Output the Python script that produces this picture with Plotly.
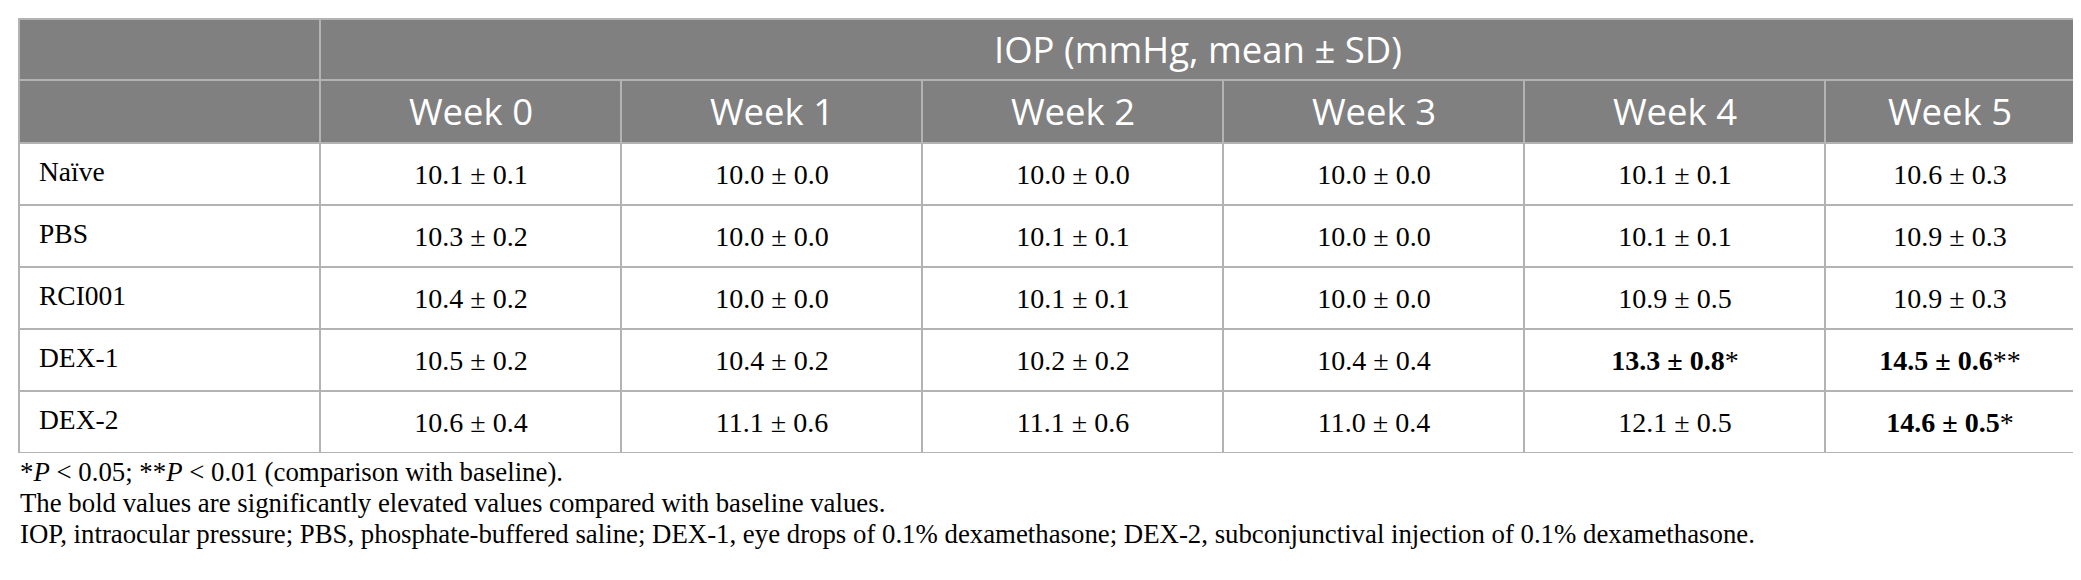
import numpy as np
import plotly.graph_objects as go

# ---- data ----
groups = ["Naïve", "PBS", "RCI001", "DEX-1", "DEX-2"]
weeks = ["Week 0", "Week 1", "Week 2", "Week 3", "Week 4", "Week 5"]
title = "IOP (mmHg, mean ± SD)"

mean_naive = [10.1, 10.0, 10.0, 10.0, 10.1, 10.6]
sd_naive = [0.1, 0.0, 0.0, 0.0, 0.1, 0.3]
mean_pbs = [10.3, 10.0, 10.1, 10.0, 10.1, 10.9]
sd_pbs = [0.2, 0.0, 0.1, 0.0, 0.1, 0.3]
mean_rci = [10.4, 10.0, 10.1, 10.0, 10.9, 10.9]
sd_rci = [0.2, 0.0, 0.1, 0.0, 0.5, 0.3]
mean_dex1 = [10.5, 10.4, 10.2, 10.4, 13.3, 14.5]
sd_dex1 = [0.2, 0.2, 0.2, 0.4, 0.8, 0.6]
mean_dex2 = [10.6, 11.1, 11.1, 11.0, 12.1, 14.6]
sd_dex2 = [0.4, 0.6, 0.6, 0.4, 0.5, 0.5]

# significance vs baseline ("" = n.s.), bold when significant
sig_naive = ["", "", "", "", "", ""]
sig_pbs = ["", "", "", "", "", ""]
sig_rci = ["", "", "", "", "", ""]
sig_dex1 = ["", "", "", "", "*", "**"]
sig_dex2 = ["", "", "", "", "", "*"]

footnotes = [
    "*<i>P</i> &lt; 0.05; **<i>P</i> &lt; 0.01 (comparison with baseline).",
    "The bold values are significantly elevated values compared with baseline values.",
    "IOP, intraocular pressure; PBS, phosphate-buffered saline; DEX-1, eye drops of 0.1% "
    "dexamethasone; DEX-2, subconjunctival injection of 0.1% dexamethasone.",
]

# ---- layout sizes (px) ----
col_w = [301, 301, 301, 301, 301, 301, 250]
head_h = [61, 63]
row_h = 62

HEAD = "#808080"
GRID = "#b3b3b3"
SERIF = "Liberation Serif"
SANS = "Open Sans"

means = [mean_naive, mean_pbs, mean_rci, mean_dex1, mean_dex2]
sds = [sd_naive, sd_pbs, sd_rci, sd_dex1, sd_dex2]
sigs = [sig_naive, sig_pbs, sig_rci, sig_dex1, sig_dex2]

cells = []
for m_row, s_row, g_row in zip(means, sds, sigs):
    row = []
    for m, s, g in zip(m_row, s_row, g_row):
        txt = f"{m:.1f} ± {s:.1f}"
        row.append(f"<b>{txt}</b>{g}" if g else txt)
    cells.append(row)

x_edges = np.concatenate([[0], np.cumsum(col_w)])
y_head = np.concatenate([[0], np.cumsum(head_h)])
y_body = y_head[-1] + row_h * np.arange(len(groups) + 1)
total_w = x_edges[-1]
total_h = y_body[-1]

flat_grey = [[0, HEAD], [1, HEAD]]
flat_white = [[0, "white"], [1, "white"]]
head_font = dict(family=SANS, size=36.5, color="white")

fig = go.Figure()
# corner cells
fig.add_trace(go.Heatmap(x=x_edges[:2], y=y_head, z=[[0], [0]], colorscale=flat_grey,
                         showscale=False, xgap=2, ygap=2, hoverinfo="skip"))
# spanning title
fig.add_trace(go.Heatmap(x=[x_edges[1], x_edges[-1]], y=y_head[:2], z=[[0]], colorscale=flat_grey,
                         showscale=False, xgap=2, ygap=2, hoverinfo="skip",
                         text=[[title]], texttemplate="%{text}", textfont=head_font))
# week headers
fig.add_trace(go.Heatmap(x=x_edges[1:], y=y_head[1:], z=[[0] * len(weeks)], colorscale=flat_grey,
                         showscale=False, xgap=2, ygap=2, hoverinfo="skip",
                         text=[weeks], texttemplate="%{text}", textfont=head_font))
# label column
fig.add_trace(go.Heatmap(x=x_edges[:2], y=y_body, z=[[0]] * len(groups), colorscale=flat_white,
                         showscale=False, xgap=2, ygap=2, hoverinfo="skip"))
# values
fig.add_trace(go.Heatmap(x=x_edges[1:], y=y_body, z=[[0] * len(weeks)] * len(groups),
                         colorscale=flat_white, showscale=False, xgap=2, ygap=2, hoverinfo="skip",
                         text=cells, texttemplate="%{text}",
                         textfont=dict(family=SERIF, size=28, color="black")))
# row labels
fig.add_trace(go.Scatter(x=[20] * len(groups), y=(y_body[:-1] + y_body[1:]) / 2, text=groups,
                         mode="text", textposition="middle right",
                         textfont=dict(family=SERIF, size=27.5, color="black"),
                         hoverinfo="skip", showlegend=False))

top, left = 10, 10
plot_h = total_h + 1
bottom_px = top + plot_h
H = 580
for i, note in enumerate(footnotes):
    ypx = 464 + 31 * i
    fig.add_annotation(text=note, xref="paper", yref="paper", x=0, xanchor="left",
                       y=(bottom_px - ypx) / plot_h, yanchor="middle", showarrow=False,
                       font=dict(family=SERIF, size=26.8, color="black"))

fig.update_xaxes(range=[-1, total_w + 1], visible=False, fixedrange=True)
fig.update_yaxes(range=[total_h, -1], visible=False, fixedrange=True)
fig.update_layout(
    width=2081, height=H,
    margin=dict(l=left, r=2081 - left - (total_w + 2), t=top, b=H - bottom_px, autoexpand=False),
    plot_bgcolor=GRID, paper_bgcolor="white", showlegend=False,
)

fig.write_html("out.html")
